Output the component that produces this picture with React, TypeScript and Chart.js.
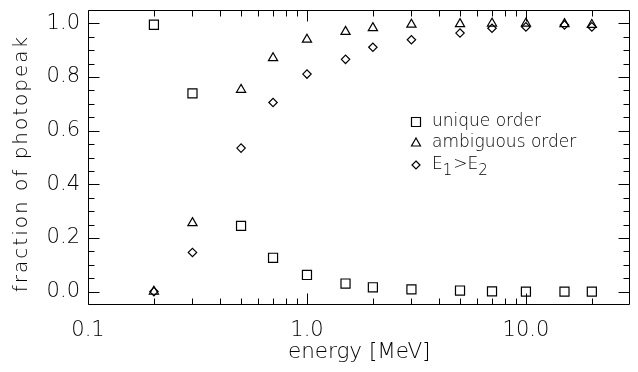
import React, { useEffect, useRef } from 'react';
import { Chart, registerables } from 'chart.js';

Chart.register(...registerables);

// ---- data ----
const energies = [0.2, 0.3, 0.5, 0.7, 1.0, 1.5, 2, 3, 5, 7, 10, 15, 20];
const uniqueOrder = [0.995, 0.739, 0.245, 0.126, 0.062, 0.030, 0.016, 0.008, 0.004, 0.001, 0.0, 0.0, 0.0];
const ambiguousOrder = [0.0, 0.256, 0.753, 0.871, 0.940, 0.969, 0.983, 0.996, 0.998, 1.0, 1.0, 0.998, 0.995];
const e1GreaterE2 = [0.0, 0.146, 0.535, 0.705, 0.811, 0.866, 0.911, 0.939, 0.964, 0.982, 0.987, 0.994, 0.987];

const xMajorTicks = [0.1, 1, 10];
const xTickLabels = ['0.1', '1.0', '10.0'];
const xMinorTicks = [0.2, 0.3, 0.4, 0.5, 0.6, 0.7, 0.8, 0.9, 2, 3, 4, 5, 6, 7, 8, 9, 20];
const yMajorTicks = [0.0, 0.2, 0.4, 0.6, 0.8, 1.0];
const yTickLabels = ['0.0', '0.2', '0.4', '0.6', '0.8', '1.0'];
const yMinorTicks = [0.05, 0.1, 0.15, 0.25, 0.3, 0.35, 0.45, 0.5, 0.55, 0.65, 0.7, 0.75, 0.85, 0.9, 0.95];

const xTitle = 'energy [MeV]';
const yTitle = 'fraction of photopeak';

const FONT_FAMILY = '"DejaVu Sans", "Liberation Sans", sans-serif';
const FONT_WEIGHT = '200';

const framePlugin = {
  id: 'idlFrame',
  afterDraw(chart: any) {
    const { ctx, chartArea: a, scales } = chart;
    const xs = scales.x;
    const ys = scales.y;
    const L = Math.round(a.left) + 0.5;
    const R = Math.round(a.right) - 0.5;
    const T = Math.round(a.top) + 0.5;
    const B = Math.round(a.bottom) - 0.5;
    ctx.save();
    ctx.strokeStyle = '#000';
    ctx.lineWidth = 1;
    ctx.beginPath();
    ctx.rect(L, T, R - L, B - T);
    const major = 11;
    const minor = 6;
    const xTick = (v: number, len: number) => {
      const px = Math.round(xs.getPixelForValue(v)) + 0.5;
      ctx.moveTo(px, B);
      ctx.lineTo(px, B - len);
      ctx.moveTo(px, T);
      ctx.lineTo(px, T + len);
    };
    const yTick = (v: number, len: number) => {
      const py = Math.round(ys.getPixelForValue(v)) + 0.5;
      ctx.moveTo(L, py);
      ctx.lineTo(L + len, py);
      ctx.moveTo(R, py);
      ctx.lineTo(R - len, py);
    };
    xMajorTicks.forEach((v) => xTick(v, major));
    xMinorTicks.forEach((v) => xTick(v, minor));
    yMajorTicks.forEach((v) => yTick(v, major));
    yMinorTicks.forEach((v) => yTick(v, minor));
    ctx.stroke();

    // y-axis title (wide letter spacing like the original vector font)
    ctx.save();
    ctx.translate(22, (a.top + a.bottom) / 2 + 6);
    ctx.rotate(-Math.PI / 2);
    ctx.font = `${FONT_WEIGHT} 20px ${FONT_FAMILY}`;
    (ctx as any).letterSpacing = '2px';
    ctx.fillStyle = '#000';
    ctx.textAlign = 'center';
    ctx.textBaseline = 'middle';
    ctx.fillText(yTitle, 0, 0);
    ctx.restore();

    // legend
    const sx = 416;
    const tx = 432;
    const rows = [122, 143, 165];
    const fs = 17;
    ctx.lineWidth = 1.2;
    ctx.fillStyle = '#000';
    ctx.textBaseline = 'middle';
    ctx.textAlign = 'left';
    ctx.beginPath();
    ctx.rect(sx - 4.5, rows[0] - 4.5, 9, 9);
    ctx.stroke();
    ctx.beginPath();
    ctx.moveTo(sx, rows[1] - 5);
    ctx.lineTo(sx + 4.5, rows[1] + 3);
    ctx.lineTo(sx - 4.5, rows[1] + 3);
    ctx.closePath();
    ctx.stroke();
    ctx.beginPath();
    ctx.moveTo(sx, rows[2] - 4);
    ctx.lineTo(sx + 4, rows[2]);
    ctx.lineTo(sx, rows[2] + 4);
    ctx.lineTo(sx - 4, rows[2]);
    ctx.closePath();
    ctx.stroke();

    const mainFont = `${FONT_WEIGHT} ${fs}px ${FONT_FAMILY}`;
    const subFont = `${FONT_WEIGHT} ${Math.round(fs * 0.9)}px ${FONT_FAMILY}`;
    ctx.font = mainFont;
    ctx.fillText('unique order', tx, rows[0]);
    ctx.fillText('ambiguous order', tx, rows[1]);
    let cx = tx;
    const parts: [string, boolean][] = [['E', false], ['1', true], ['>', false], ['E', false], ['2', true]];
    parts.forEach(([t, sub]) => {
      ctx.font = sub ? subFont : mainFont;
      ctx.fillText(t, cx, rows[2] + (sub ? 6 : 0));
      cx += ctx.measureText(t).width + (sub ? 1 : 0);
    });
    ctx.restore();
  },
};

export default function App() {
  const ref = useRef<HTMLCanvasElement>(null);

  useEffect(() => {
    const canvas = ref.current;
    if (!canvas) return;
    const tickFont = { family: FONT_FAMILY, size: 21, weight: FONT_WEIGHT as any };
    const titleFont = { family: FONT_FAMILY, size: 21.5, weight: FONT_WEIGHT as any, lineHeight: 1.2 };
    const mk = (vals: number[]) => energies.map((e, i) => ({ x: e, y: vals[i] }));
    const common = {
      showLine: false,
      borderColor: '#000',
      backgroundColor: 'rgba(0,0,0,0)',
      pointBorderColor: '#000',
      pointBackgroundColor: 'rgba(0,0,0,0)',
      pointBorderWidth: 1.2,
      pointHoverRadius: 0,
      clip: false as any,
    };
    const chart = new Chart(canvas, {
      type: 'scatter',
      data: {
        datasets: [
          { ...common, label: 'unique order', data: mk(uniqueOrder), pointStyle: 'rect', pointRadius: 6.4 },
          { ...common, label: 'ambiguous order', data: mk(ambiguousOrder), pointStyle: 'triangle', pointRadius: 5.3 },
          { ...common, label: 'E1>E2', data: mk(e1GreaterE2), pointStyle: 'rectRot', pointRadius: 4.2 },
        ],
      },
      options: {
        animation: false,
        responsive: false,
        events: [],
        layout: { padding: { left: 0, right: 2, top: 10, bottom: 0 } },
        plugins: { legend: { display: false }, tooltip: { enabled: false } },
        scales: {
          x: {
            type: 'logarithmic',
            min: 0.1,
            max: 30,
            afterBuildTicks: (s: any) => {
              s.ticks = xMajorTicks.map((v) => ({ value: v, major: true }));
            },
            afterFit: (s: any) => {
              s.height = 67;
              s.paddingLeft = 0;
              s.paddingRight = 0;
            },
            grid: { display: false, drawTicks: false },
            border: { display: false },
            ticks: {
              autoSkip: false,
              maxRotation: 0,
              padding: 13,
              color: '#000',
              font: tickFont,
              callback: (v: any) => {
                const i = xMajorTicks.findIndex((t) => Math.abs(t - Number(v)) < 1e-9);
                return i >= 0 ? xTickLabels[i] : '';
              },
            },
            title: { display: true, text: xTitle, color: '#000', font: titleFont, padding: { top: 0, bottom: 7 } },
          },
          y: {
            type: 'linear',
            min: -0.05,
            max: 1.05,
            afterBuildTicks: (s: any) => {
              s.ticks = yMajorTicks.map((v) => ({ value: v }));
            },
            afterFit: (s: any) => {
              s.width = 88;
              s.paddingTop = 0;
              s.paddingBottom = 0;
            },
            grid: { display: false, drawTicks: false },
            border: { display: false },
            ticks: {
              autoSkip: false,
              padding: 8,
              color: '#000',
              font: tickFont,
              callback: (v: any) => {
                const i = yMajorTicks.findIndex((t) => Math.abs(t - Number(v)) < 1e-9);
                return i >= 0 ? yTickLabels[i] : '';
              },
            },
            title: { display: false },
          },
        },
      },
      plugins: [framePlugin],
    });
    return () => chart.destroy();
  }, []);

  return (
    <div style={{ position: 'absolute', left: 0, top: 0, width: 638, height: 372, background: '#fff' }}>
      <canvas ref={ref} width={638} height={372} style={{ display: 'block' }} />
    </div>
  );
}
